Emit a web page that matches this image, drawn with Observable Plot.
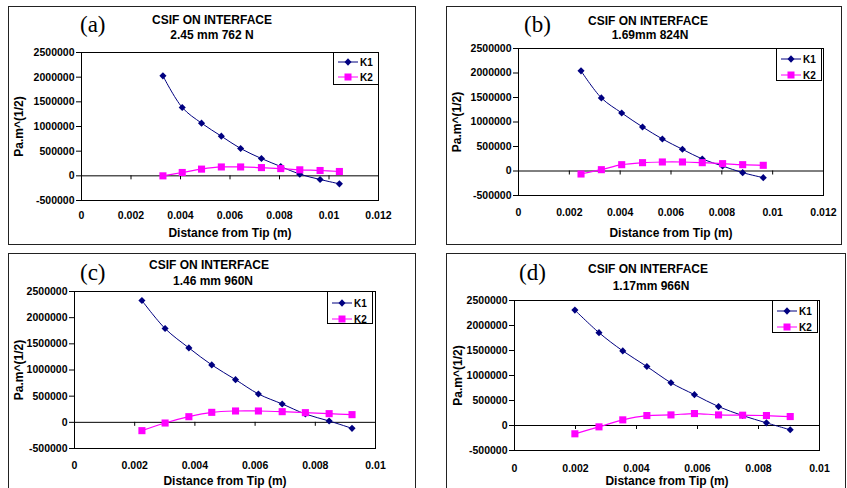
<!DOCTYPE html>
<html>
<head>
<meta charset="utf-8">
<script src="https://cdn.jsdelivr.net/npm/d3@7"></script>
<script src="https://cdn.jsdelivr.net/npm/@observablehq/plot@0.6"></script>
<style>
  html, body { margin: 0; padding: 0; background: #fff; }
  #root { position: relative; width: 847px; height: 488px; overflow: hidden; background: #fff; }
  .panel { position: absolute; }
  .panel svg { position: absolute; left: 0; top: 0; }
  .border { position: absolute; left: 0; top: 0; box-sizing: border-box; border: 1.5px solid #222; pointer-events: none; }
  .ttl { position: absolute; transform: translate(-50%, -50%); font-family: "Liberation Sans", Arial, sans-serif; font-weight: bold; font-size: 12px; line-height: 12px; white-space: nowrap; color: #000; }
  .letter { position: absolute; transform: translateY(-50%); font-family: "Liberation Serif", "Times New Roman", serif; font-size: 23px; color: #000; white-space: nowrap; }
  .legend { position: absolute; box-sizing: border-box; border: 1px solid #000; background: #fff; width: 46px; height: 33px; }
  .legend .row { position: absolute; left: 3px; height: 12px; display: flex; align-items: center; font-family: "Liberation Sans", Arial, sans-serif; font-weight: bold; font-size: 10px; }
</style>
</head>
<body>
<div id="root"></div>
<script>
// ---------- data ----------
const seriesNames = ["K1", "K2"];
const seriesColors = ["#000080", "#ff00ff"];
const yTicks = [-500000, 0, 500000, 1000000, 1500000, 2000000, 2500000];
const xTicks12 = [0, 0.002, 0.004, 0.006, 0.008, 0.01, 0.012];
const xTicks10 = [0, 0.002, 0.004, 0.006, 0.008, 0.01];

const titlesLine1 = ["CSIF ON INTERFACE", "CSIF ON INTERFACE", "CSIF ON INTERFACE", "CSIF ON INTERFACE"];
const titlesLine2 = ["2.45 mm 762 N", "1.69mm 824N", "1.46 mm 960N", "1.17mm 966N"];
const letters = ["(a)", "(b)", "(c)", "(d)"];
const xLabel = "Distance from Tip (m)";
const yLabel = "Pa.m^(1/2)";

const xA = [0.00329, 0.00407, 0.00485, 0.00565, 0.00643, 0.00727, 0.00805, 0.00882, 0.00964, 0.01042];
const k1A = [2027000, 1385000, 1068000, 804000, 554000, 351000, 189000, 34000, -74000, -162000];
const k2A = [0, 68000, 136000, 180000, 180000, 167000, 147000, 122000, 108000, 88000];

const xB = [0.00246, 0.00326, 0.00406, 0.00488, 0.00566, 0.00645, 0.00723, 0.00803, 0.00882, 0.00963];
const k1B = [2044000, 1492000, 1185000, 899000, 654000, 443000, 245000, 102000, -34000, -136000];
const k2B = [-61000, 27000, 129000, 170000, 184000, 184000, 170000, 150000, 129000, 116000];

const xC = [0.00224, 0.00301, 0.0038, 0.00456, 0.00535, 0.00611, 0.0069, 0.00767, 0.00846, 0.00922];
const k1C = [2328000, 1792000, 1422000, 1097000, 816000, 542000, 351000, 159000, 26000, -115000];
const k2C = [-159000, -13000, 108000, 191000, 217000, 217000, 204000, 185000, 166000, 147000];

const xD = [0.00198, 0.00277, 0.00355, 0.00434, 0.00513, 0.0059, 0.00669, 0.00748, 0.00826, 0.00904];
const k1D = [2308000, 1857000, 1492000, 1180000, 855000, 617000, 378000, 199000, 53000, -86000];
const k2D = [-166000, -27000, 113000, 199000, 212000, 239000, 212000, 206000, 199000, 179000];

// ---------- layout ----------
const panels = [
  {x: xA, k1: k1A, k2: k2A, xTicks: xTicks12, left: 8, top: 6, w: 408, h: 239, mL: 73, mT: 46, mR: 38, mB: 45,
   pad: 11, xLabDy: 33, yLabDx: -62, t1: [204, 14], t2: [204, 29], let: [72, 19], legRight: 1, legRows: [9, 24]},
  {x: xB, k1: k1B, k2: k2B, xTicks: xTicks12, left: 446, top: 6, w: 396, h: 239, mL: 72, mT: 42, mR: 19, mB: 50,
   pad: 13, xLabDy: 38, yLabDx: -61, t1: [202, 15], t2: [204, 29], let: [78, 19], legRight: -1, legRows: [10, 26]},
  {x: xC, k1: k1C, k2: k2C, xTicks: xTicks10, left: 8, top: 253, w: 408, h: 240, mL: 66, mT: 38, mR: 41, mB: 45,
   pad: 13, xLabDy: 33, yLabDx: -55, t1: [201, 12], t2: [205, 28], let: [72, 20], legRight: -2, legRows: [11, 27]},
  {x: xD, k1: k1D, k2: k2D, xTicks: xTicks10, left: 446, top: 253, w: 400, h: 240, mL: 68, mT: 47, mR: 27, mB: 43,
   pad: 14, xLabDy: 31, yLabDx: -56, t1: [202, 16], t2: [205, 33], let: [73, 20], legRight: -1, legRows: [10, 26]}
];

const root = document.getElementById("root");

function legendSwatch(i) {
  const ns = "http://www.w3.org/2000/svg";
  const s = document.createElementNS(ns, "svg");
  s.setAttribute("width", 22); s.setAttribute("height", 10);
  s.style.position = "static";
  const ln = document.createElementNS(ns, "line");
  ln.setAttribute("x1", 1); ln.setAttribute("x2", 21); ln.setAttribute("y1", 5); ln.setAttribute("y2", 5);
  ln.setAttribute("stroke", seriesColors[i]); ln.setAttribute("stroke-width", 1);
  s.appendChild(ln);
  let m;
  if (i === 0) {
    m = document.createElementNS(ns, "path");
    m.setAttribute("d", "M11,1.3L14.5,5L11,8.7L7.5,5Z");
  } else {
    m = document.createElementNS(ns, "rect");
    m.setAttribute("x", 7.5); m.setAttribute("y", 1.5); m.setAttribute("width", 7); m.setAttribute("height", 7);
  }
  m.setAttribute("fill", seriesColors[i]);
  s.appendChild(m);
  return s;
}

panels.forEach((p, idx) => {
  const rows = p.x.map((x, i) => ({x, k1: p.k1[i], k2: p.k2[i]}));
  const div = document.createElement("div");
  div.className = "panel";
  Object.assign(div.style, {left: p.left + "px", top: p.top + "px", width: p.w + "px", height: p.h + "px"});

  const chart = Plot.plot({
    width: p.w, height: p.h,
    marginLeft: p.mL, marginTop: p.mT, marginRight: p.mR, marginBottom: p.mB,
    x: {domain: [0, p.xTicks[p.xTicks.length - 1]]},
    y: {domain: [yTicks[0], yTicks[yTicks.length - 1]]},
    style: {fontFamily: "'Liberation Sans', Arial, sans-serif", fontSize: "10.5px", fontWeight: "bold", color: "#000", background: "transparent", overflow: "visible"},
    marks: [
      Plot.frame({stroke: "#000", strokeWidth: 1}),
      Plot.ruleY([0], {stroke: "#000", strokeWidth: 1}),
      Plot.ruleX(p.xTicks, {x: d => d, y1: 0, y2: 0, insetBottom: -4, stroke: "#000"}),
      Plot.axisY({ticks: yTicks, tickFormat: d => String(d), tickSize: 5, tickPadding: 2, label: null, stroke: "#000"}),
      Plot.axisX({ticks: p.xTicks, tickFormat: d => String(Math.round(d * 1000) / 1000), tickSize: 0, tickPadding: p.pad, label: null}),
      Plot.text([yLabel], {text: d => d, frameAnchor: "left", dx: p.yLabDx, rotate: -90, textAnchor: "middle", lineAnchor: "middle", fontSize: 12, fontWeight: "bold", fill: "#000"}),
      Plot.text([xLabel], {text: d => d, frameAnchor: "bottom", dy: p.xLabDy, textAnchor: "middle", lineAnchor: "middle", fontSize: 12, fontWeight: "bold", fill: "#000"}),
      Plot.line(rows, {x: "x", y: "k1", stroke: seriesColors[0], strokeWidth: 1, curve: "catmull-rom"}),
      Plot.dot(rows, {x: "x", y: "k1", symbol: "diamond2", r: 3.2, fill: seriesColors[0], stroke: "none"}),
      Plot.line(rows, {x: "x", y: "k2", stroke: seriesColors[1], strokeWidth: 1.2, curve: "catmull-rom"}),
      Plot.dot(rows, {x: "x", y: "k2", symbol: "square", r: 4, fill: seriesColors[1], stroke: "none"})
    ]
  });
  div.appendChild(chart);

  const t1 = document.createElement("div");
  t1.className = "ttl"; t1.textContent = titlesLine1[idx];
  Object.assign(t1.style, {left: p.t1[0] + "px", top: p.t1[1] + "px"});
  div.appendChild(t1);
  const t2 = document.createElement("div");
  t2.className = "ttl"; t2.textContent = titlesLine2[idx];
  Object.assign(t2.style, {left: p.t2[0] + "px", top: p.t2[1] + "px"});
  div.appendChild(t2);

  const lt = document.createElement("div");
  lt.className = "letter"; lt.textContent = letters[idx];
  Object.assign(lt.style, {left: p.let[0] + "px", top: p.let[1] + "px"});
  div.appendChild(lt);

  const leg = document.createElement("div");
  leg.className = "legend";
  const plotRight = p.w - p.mR;
  Object.assign(leg.style, {left: (plotRight + p.legRight - 46) + "px", top: p.mT + "px"});
  seriesNames.forEach((name, i) => {
    const r = document.createElement("div");
    r.className = "row";
    r.style.top = (p.legRows[i] - 6) + "px";
    r.appendChild(legendSwatch(i));
    const sp = document.createElement("span");
    sp.textContent = name;
    sp.style.marginLeft = "1px";
    r.appendChild(sp);
    leg.appendChild(r);
  });
  div.appendChild(leg);

  const b = document.createElement("div");
  b.className = "border";
  Object.assign(b.style, {width: p.w + "px", height: p.h + "px"});
  div.appendChild(b);

  root.appendChild(div);
});
</script>
</body>
</html>
